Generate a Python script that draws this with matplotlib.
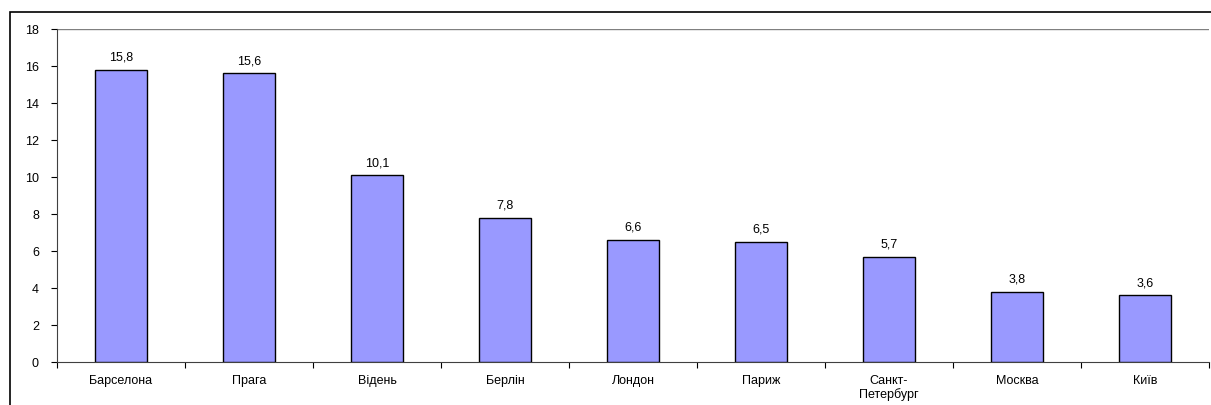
import numpy as np
import matplotlib.pyplot as plt
from matplotlib.patches import Rectangle

# data
cities = ['Барселона', 'Прага', 'Відень', 'Берлін', 'Лондон', 'Париж',
          'Санкт-\nПетербург', 'Москва', 'Київ']
values = [15.8, 15.6, 10.1, 7.8, 6.6, 6.5, 5.7, 3.8, 3.6]
labels = ['15,8', '15,6', '10,1', '7,8', '6,6', '6,5', '5,7', '3,8', '3,6']
yticks = [0, 2, 4, 6, 8, 10, 12, 14, 16, 18]

plt.rcParams['font.family'] = ['Liberation Sans', 'DejaVu Sans']

W, H = 1211, 406
fig = plt.figure(figsize=(W / 100, H / 100), dpi=100)
fig.patch.set_facecolor('white')

# outer chart border
fig.patches.append(Rectangle((10 / W, -0.05), 1.1, (H - 13) / H + 0.05,
                             transform=fig.transFigure, fill=False,
                             edgecolor='black', linewidth=1.2))

ax = fig.add_axes([57 / W, (H - 363) / H, (1209 - 57) / W, (363 - 30) / H])
x = np.arange(len(cities))
ax.bar(x, values, width=0.4, color='#9999FF', edgecolor='black', linewidth=1.0, zorder=3)

for xi, v, lab in zip(x, values, labels):
    ax.annotate(lab, (xi, v), xytext=(0, 5), textcoords='offset points',
                ha='center', va='bottom', fontsize=9)

ax.set_xlim(-0.5, len(cities) - 0.5)
ax.set_ylim(0, 18)
ax.axhline(18, color='#808080', linewidth=1.0, zorder=1)

ax.set_yticks(yticks)
ax.set_yticklabels([str(t) for t in yticks], fontsize=9)
ax.set_xticks(x)
ax.set_xticklabels(cities, fontsize=9, linespacing=1.1)
ax.set_xticks(np.arange(-0.5, len(cities)), minor=True)
ax.tick_params(axis='x', which='major', length=0, pad=9)
ax.tick_params(axis='x', which='minor', length=4, direction='out', width=0.8)
ax.tick_params(axis='y', length=4, direction='out', width=0.8, pad=9)

for side in ['top', 'right']:
    ax.spines[side].set_visible(False)
ax.spines['left'].set_color('#404040')
ax.spines['bottom'].set_color('#404040')
ax.set_facecolor('none')

plt.savefig('out.png', dpi=100, facecolor='white')
